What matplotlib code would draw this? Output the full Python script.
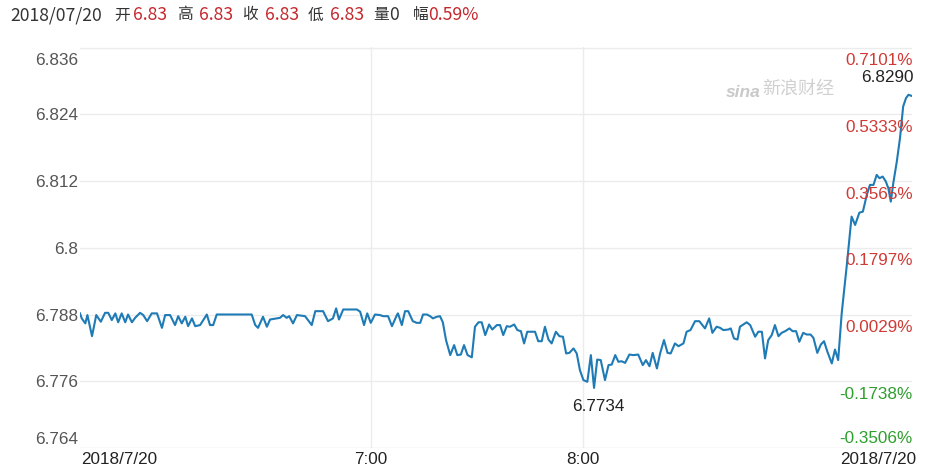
import matplotlib
matplotlib.use("Agg")
import matplotlib.pyplot as plt

W, H = 934, 469

# intraday price, time as minutes relative to 07:00
minutes = [-82.4, -81.9, -80.9, -80.3, -79.0, -77.8, -76.5, -75.3, -74.4, -73.4,
           -72.4, -71.6, -70.6, -69.6, -68.8, -67.7, -66.8, -65.4, -64.5, -63.4,
           -62.1, -60.6, -59.2, -58.3, -56.9, -55.5, -54.6, -53.6, -52.6, -51.8,
           -50.7, -49.8, -48.4, -46.5, -45.6, -44.7, -43.7, -33.8, -32.8, -32.0,
           -30.6, -29.5, -28.6, -25.8, -24.9, -23.9, -23.2, -22.1, -21.0, -18.7,
           -16.8, -15.8, -13.6, -12.2, -10.8, -9.9, -9.1, -7.9, -4.0, -3.1,
           -2.0, -1.1, -0.1, 1.1, 2.5, 3.4, 4.8, 5.9, 7.3, 7.6,
           8.7, 9.6, 10.5, 11.8, 12.9, 13.9, 14.7, 15.8, 16.7, 17.5,
           18.6, 19.5, 20.3, 21.2, 22.4, 23.5, 24.4, 25.4, 26.3, 27.3,
           28.5, 29.4, 30.4, 31.3, 32.3, 33.4, 34.3, 35.6, 36.5, 37.4,
           38.4, 39.3, 40.5, 41.4, 42.4, 43.3, 44.2, 46.4, 47.3, 48.3,
           49.2, 50.2, 51.1, 52.3, 53.3, 54.3, 55.2, 56.1, 57.3, 58.2,
           59.1, 60.1, 61.2, 62.2, 63.1, 64.0, 65.0, 66.2, 67.2, 68.1,
           69.1, 70.0, 70.9, 71.9, 73.1, 74.2, 75.6, 76.9, 77.8, 78.8,
           79.7, 80.9, 81.8, 82.9, 83.9, 84.8, 86.0, 87.0, 88.4, 89.3,
           90.4, 91.7, 92.9, 94.5, 95.7, 96.6, 97.8, 98.8, 99.7, 101.1,
           101.8, 102.7, 103.7, 104.4, 106.3, 107.3, 108.7, 109.6, 110.6, 111.5,
           112.4, 113.4, 114.3, 115.3, 116.2, 117.2, 118.4, 119.3, 120.3, 121.2,
           122.3, 123.3, 124.4, 125.2, 126.3, 127.3, 128.2, 129.1, 130.4, 131.3,
           132.2, 133.2, 134.6, 136.0, 137.0, 138.2, 139.2, 140.3, 141.2, 142.2,
           143.1, 143.9, 144.8, 145.7, 146.4, 147.1, 147.8, 148.8, 149.7, 150.6,
           151.4, 152.1, 153.0]
prices = [6.7882, 6.7873, 6.7864, 6.7879, 6.7841, 6.7879, 6.7867, 6.7883, 6.7883, 6.7870,
          6.7882, 6.7866, 6.7882, 6.7866, 6.7880, 6.7866, 6.7874, 6.7883, 6.7879, 6.7868,
          6.7882, 6.7882, 6.7856, 6.7879, 6.7879, 6.7861, 6.7877, 6.7864, 6.7876, 6.7859,
          6.7873, 6.7859, 6.7861, 6.7880, 6.7861, 6.7861, 6.7880, 6.7880, 6.7861, 6.7856,
          6.7876, 6.7858, 6.7871, 6.7874, 6.7879, 6.7874, 6.7877, 6.7864, 6.7879, 6.7877,
          6.7861, 6.7886, 6.7886, 6.7868, 6.7873, 6.7891, 6.7871, 6.7889, 6.7889, 6.7885,
          6.7861, 6.7882, 6.7865, 6.7880, 6.7879, 6.7877, 6.7877, 6.7859, 6.7879, 6.7882,
          6.7861, 6.7886, 6.7886, 6.7868, 6.7865, 6.7865, 6.7880, 6.7880, 6.7877, 6.7873,
          6.7876, 6.7877, 6.7866, 6.7834, 6.7807, 6.7825, 6.7807, 6.7808, 6.7825, 6.7807,
          6.7803, 6.7858, 6.7866, 6.7866, 6.7843, 6.7862, 6.7853, 6.7861, 6.7861, 6.7843,
          6.7859, 6.7858, 6.7862, 6.7852, 6.7850, 6.7828, 6.7849, 6.7849, 6.7832, 6.7832,
          6.7858, 6.7835, 6.7828, 6.7849, 6.7841, 6.7840, 6.7810, 6.7811, 6.7819, 6.7810,
          6.7780, 6.7762, 6.7759, 6.7807, 6.7748, 6.7799, 6.7798, 6.7762, 6.7789, 6.7790,
          6.7807, 6.7795, 6.7796, 6.7793, 6.7808, 6.7807, 6.7808, 6.7789, 6.7798, 6.7787,
          6.7811, 6.7783, 6.7810, 6.7834, 6.7811, 6.7810, 6.7828, 6.7823, 6.7828, 6.7849,
          6.7852, 6.7868, 6.7868, 6.7855, 6.7873, 6.7847, 6.7858, 6.7856, 6.7852, 6.7853,
          6.7855, 6.7837, 6.7835, 6.7858, 6.7866, 6.7861, 6.7840, 6.7849, 6.7849, 6.7801,
          6.7834, 6.7843, 6.7861, 6.7841, 6.7847, 6.7850, 6.7855, 6.7850, 6.7850, 6.7831,
          6.7847, 6.7844, 6.7844, 6.7838, 6.7811, 6.7826, 6.7832, 6.7814, 6.7792, 6.7817,
          6.7798, 6.7882, 6.7966, 6.8056, 6.8041, 6.8063, 6.8065, 6.8095, 6.8113, 6.8113,
          6.8131, 6.8125, 6.8128, 6.8119, 6.8107, 6.8083, 6.8116, 6.8155, 6.8197, 6.8254,
          6.8269, 6.8275, 6.8273]

y_ticks = [6.764, 6.776, 6.788, 6.8, 6.812, 6.824, 6.836]
y_labels = ["6.764", "6.776", "6.788", "6.8", "6.812", "6.824", "6.836"]
pct_labels = ["-0.3506%", "-0.1738%", "0.0029%", "0.1797%", "0.3565%", "0.5333%", "0.7101%"]
x_start, x_end = -82.4, 153.1
x_ticks = [x_start, 0, 60, x_end]
x_labels = ["2018/7/20", "7:00", "8:00", "2018/7/20"]

header_date = "2018/07/20"
header_keys = ["开", "高", "收", "低", "量", "幅"]
header_vals = ["6.83", "6.83", "6.83", "6.83", "0", "0.59%"]
hi_label, lo_label = "6.8290", "6.7734"

RED, GREEN, GREY = "#cf3a35", "#2d9f2d", "#555555"
LINE = "#1f7bb5"
NUM_FONT = ["Liberation Sans", "DejaVu Sans"]
CJK_FONT = ["Noto Sans CJK SC", "DejaVu Sans"]

fig = plt.figure(figsize=(W / 100, H / 100), dpi=100)
ax = fig.add_axes([80 / W, 1 - 448 / H, 832 / W, 400.5 / H])
ax.set_xlim(x_start, x_end)
ax.set_ylim(y_ticks[0], y_ticks[-1])
for s in ax.spines.values():
    s.set_visible(False)
ax.set_xticks([])
ax.set_yticks([])

# grid
for i, v in enumerate(y_ticks):
    ax.axhline(v, color="#dddddd" if i == 0 else "#ececec", lw=1.0, zorder=0)
for v in x_ticks[1:3]:
    ax.axvline(v, color="#efeaf0", lw=1.0, zorder=0)

ax.plot(minutes, prices, color=LINE, lw=1.5, zorder=3)

# y labels (left prices, right percent change)
ytr = ax.get_yaxis_transform()
n = len(y_ticks)
for i, (v, lab, pct) in enumerate(zip(y_ticks, y_labels, pct_labels)):
    if i == n - 1:
        dl, dr = -13, -13
    elif i == 0:
        dl, dr = 9, 10
    else:
        dl, dr = -1.5, -13
    ax.annotate(lab, xy=(0, v), xycoords=ytr, xytext=(-2, dl), textcoords="offset pixels",
                ha="right", va="center", fontsize=12.3, color=GREY, family=NUM_FONT,
                annotation_clip=False)
    c = GREEN if pct.startswith("-") else RED
    ax.annotate(pct, xy=(1, v), xycoords=ytr, xytext=(1, dr), textcoords="offset pixels",
                ha="right", va="center", fontsize=12.3, color=c, family=NUM_FONT,
                annotation_clip=False)

# x labels
xtr = ax.get_xaxis_transform()
for i, (v, lab) in enumerate(zip(x_ticks, x_labels)):
    ha, dx = "center", 0
    if i == 0:
        ha, dx = "left", 1
    elif i == len(x_ticks) - 1:
        ha, dx = "right", 4
    ax.annotate(lab, xy=(v, 0), xycoords=xtr, xytext=(dx, -11), textcoords="offset pixels",
                ha=ha, va="center", fontsize=12.3, color="#222222", family=NUM_FONT,
                annotation_clip=False)

# high / low markers
imax = prices.index(max(prices))
imin = prices.index(min(prices))
ax.annotate(hi_label, xy=(minutes[imax], prices[imax]), xytext=(5, 17),
            textcoords="offset pixels", ha="right", va="center", fontsize=12.3,
            color="#222222", family=NUM_FONT, annotation_clip=False)
ax.annotate(lo_label, xy=(minutes[imin], prices[imin]), xytext=(4, -19),
            textcoords="offset pixels", ha="center", va="center", fontsize=12.3,
            color="#222222", family=NUM_FONT, annotation_clip=False)

# watermark
fig.text(726 / W, 1 - 92 / H, "sina", fontsize=12.5, fontweight="bold", style="italic",
         color="#c9c9c9", family=NUM_FONT, ha="left", va="center")
fig.text(762 / W, 1 - 89 / H, "新浪财经", fontsize=13, color="#d0d0d0",
         family=CJK_FONT, ha="left", va="center")

# header line
hy = 1 - 15 / H
fig.text(10 / W, hy, header_date, fontsize=12.7, color="#333333", family=CJK_FONT,
         ha="left", va="center")
key_x = [114, 177, 242, 308, 373, 413]
val_x = [133, 199, 265, 330, 389, 428]
for k, v, kx, vx in zip(header_keys, header_vals, key_x, val_x):
    fig.text(kx / W, hy, k, fontsize=11.3, color="#333333", family=CJK_FONT,
             ha="left", va="center")
    fig.text(vx / W, hy, v, fontsize=12.7, color="#333333" if k == "量" else "#c4282d",
             family=CJK_FONT, ha="left", va="center")

fig.savefig("out.png", dpi=100, facecolor="white")
